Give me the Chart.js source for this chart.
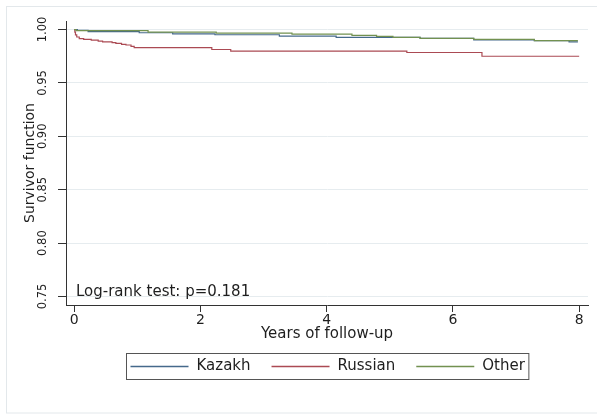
<!DOCTYPE html>
<html>
<head>
<meta charset="utf-8">
<script src="https://cdn.jsdelivr.net/npm/chart.js@4.4.1/dist/chart.umd.min.js"></script>
<style>
  html, body { margin: 0; padding: 0; background: #ffffff; }
  #wrap { width: 597px; height: 417px; position: relative; }
</style>
</head>
<body>
<div id="wrap"><canvas id="c" width="597" height="417"></canvas></div>
<script>
// ---- data (Kaplan-Meier step points: time in years, survivor function) ----
const seriesNames = ['Kazakh', 'Russian', 'Other'];
const seriesColors = ['#45698b', '#ab4a53', '#729150'];

const kazakhTime = [0, 0.05, 0.22, 1.03, 1.56, 2.23, 3.25, 4.15, 5.48, 6.33, 7.29, 7.84, 7.98];
const kazakhSurv = [1.000, 0.9993, 0.9980, 0.9970, 0.9960, 0.9951, 0.9939, 0.9926, 0.9917, 0.9904, 0.9895, 0.9884, 0.9884];

const russianTime = [0, 0.01, 0.02, 0.04, 0.08, 0.15, 0.27, 0.38, 0.45, 0.60, 0.66, 0.75, 0.82, 0.90, 0.95, 2.18, 2.48, 5.27, 6.46, 8.00];
const russianSurv = [1.000, 0.9975, 0.9950, 0.9930, 0.9915, 0.9908, 0.9900, 0.9892, 0.9885, 0.9878, 0.9870, 0.9862, 0.9855, 0.9843, 0.9830, 0.9813, 0.9797, 0.9785, 0.9750, 0.9750];

const otherTime = [0, 0.03, 1.17, 2.25, 3.45, 4.40, 4.79, 5.05, 5.48, 6.33, 7.29, 7.98];
const otherSurv = [1.000, 0.9990, 0.9975, 0.9967, 0.9958, 0.9946, 0.9936, 0.9926, 0.9917, 0.9908, 0.9897, 0.9897];

const xTickValues = [0, 2, 4, 6, 8];
const xTickLabels = ['0', '2', '4', '6', '8'];
const yTickValues = [0.75, 0.80, 0.85, 0.90, 0.95, 1.00];
const yTickLabels = ['0.75', '0.80', '0.85', '0.90', '0.95', '1.00'];

const xTitle = 'Years of follow-up';
const yTitle = 'Survivor function';
const noteText = 'Log-rank test: p=0.181';

// ---- build datasets ----
function pts(t, s) { return t.map((v, i) => ({ x: v, y: s[i] })); }
const allTimes = [kazakhTime, russianTime, otherTime];
const allSurv = [kazakhSurv, russianSurv, otherSurv];
const drawOrder = [3, 2, 1];

const datasets = seriesNames.map((name, i) => ({
  label: name,
  data: pts(allTimes[i], allSurv[i]),
  borderColor: seriesColors[i],
  backgroundColor: seriesColors[i],
  borderWidth: 1.2,
  pointRadius: 0,
  pointHoverRadius: 0,
  stepped: 'before',
  fill: false,
  order: drawOrder[i]
}));

const FONT = 'DejaVu Sans';
const TEXT = '#1e1e1e';

// frame, note text and legend box
const decor = {
  id: 'decor',
  beforeDraw(chart) {
    const ctx = chart.ctx;
    ctx.save();
    ctx.fillStyle = '#ffffff';
    ctx.fillRect(0, 0, chart.width, chart.height);
    ctx.strokeStyle = '#e3e8eb';
    ctx.lineWidth = 1;
    ctx.strokeRect(6.5, 6.5, chart.width + 10, chart.height - 10.5);
    ctx.restore();
  },
  afterDraw(chart) {
    const ctx = chart.ctx;
    const a = chart.chartArea;
    ctx.save();
    // note inside plot
    ctx.font = '15px "' + FONT + '"';
    ctx.fillStyle = TEXT;
    ctx.textAlign = 'left';
    ctx.textBaseline = 'middle';
    ctx.fillText(noteText, a.left + 10, 292);

    // legend
    const lineLen = 58, gapText = 8, gapItem = 21, margin = 4;
    const widths = seriesNames.map(n => ctx.measureText(n).width);
    let total = 0;
    widths.forEach((w, i) => { total += lineLen + gapText + w + (i < widths.length - 1 ? gapItem : 0); });
    const boxW = total + margin * 2;
    const cx = (a.left + a.right) / 2;
    const bx = Math.round(cx - boxW / 2) + 0.5;
    const by = 353.5, bh = 26;
    ctx.strokeStyle = '#555555';
    ctx.lineWidth = 1;
    ctx.strokeRect(bx, by, boxW, bh);
    let x = bx + margin;
    const ly = by + bh / 2;
    seriesNames.forEach((n, i) => {
      ctx.strokeStyle = seriesColors[i];
      ctx.lineWidth = 1.3;
      ctx.beginPath();
      ctx.moveTo(x, ly);
      ctx.lineTo(x + lineLen, ly);
      ctx.stroke();
      x += lineLen + gapText;
      ctx.fillStyle = TEXT;
      ctx.fillText(n, x, ly);
      x += widths[i] + gapItem;
    });
    ctx.restore();
  }
};

new Chart(document.getElementById('c'), {
  type: 'line',
  data: { datasets },
  options: {
    responsive: false,
    animation: false,
    devicePixelRatio: 1,
    layout: { padding: { left: 0, top: 21, right: 9, bottom: 72 } },
    plugins: {
      legend: { display: false },
      tooltip: { enabled: false }
    },
    scales: {
      x: {
        type: 'linear',
        min: -0.13,
        max: 8.14,
        afterBuildTicks: (s) => { s.ticks = xTickValues.map(v => ({ value: v })); },
        afterFit: (s) => { s.height = 40; },
        ticks: {
          autoSkip: false,
          padding: 0,
          maxRotation: 0,
          color: TEXT,
          font: { family: FONT, size: 14 },
          callback: (v) => { const i = xTickValues.indexOf(v); return i >= 0 ? xTickLabels[i] : ''; }
        },
        grid: { drawOnChartArea: false, drawTicks: true, tickLength: 7, tickColor: '#333333', tickWidth: 1 },
        border: { display: true, color: '#333333', width: 1 },
        title: {
          display: true, text: xTitle, color: TEXT,
          font: { family: FONT, size: 15 },
          padding: { top: 0, bottom: 1.5 }
        }
      },
      y: {
        type: 'linear',
        min: 0.742,
        max: 1.008,
        afterBuildTicks: (s) => { s.ticks = yTickValues.map(v => ({ value: v })); },
        afterFit: (s) => { s.width = 66; },
        ticks: {
          autoSkip: false,
          padding: 2,
          minRotation: 90,
          maxRotation: 90,
          crossAlign: 'center',
          color: TEXT,
          font: { family: FONT, size: 11.5 },
          callback: (v) => { const i = yTickValues.findIndex(t => Math.abs(t - v) < 1e-9); return i >= 0 ? yTickLabels[i] : ''; }
        },
        grid: { drawOnChartArea: true, color: '#e6ecef', lineWidth: 1, drawTicks: true, tickLength: 8, tickColor: '#333333', tickWidth: 1 },
        border: { display: true, color: '#333333', width: 1 },
        title: {
          display: true, text: yTitle, color: TEXT,
          font: { family: FONT, size: 14 },
          padding: { top: 21.6, bottom: 0 }
        }
      }
    }
  },
  plugins: [decor]
});
</script>
</body>
</html>
